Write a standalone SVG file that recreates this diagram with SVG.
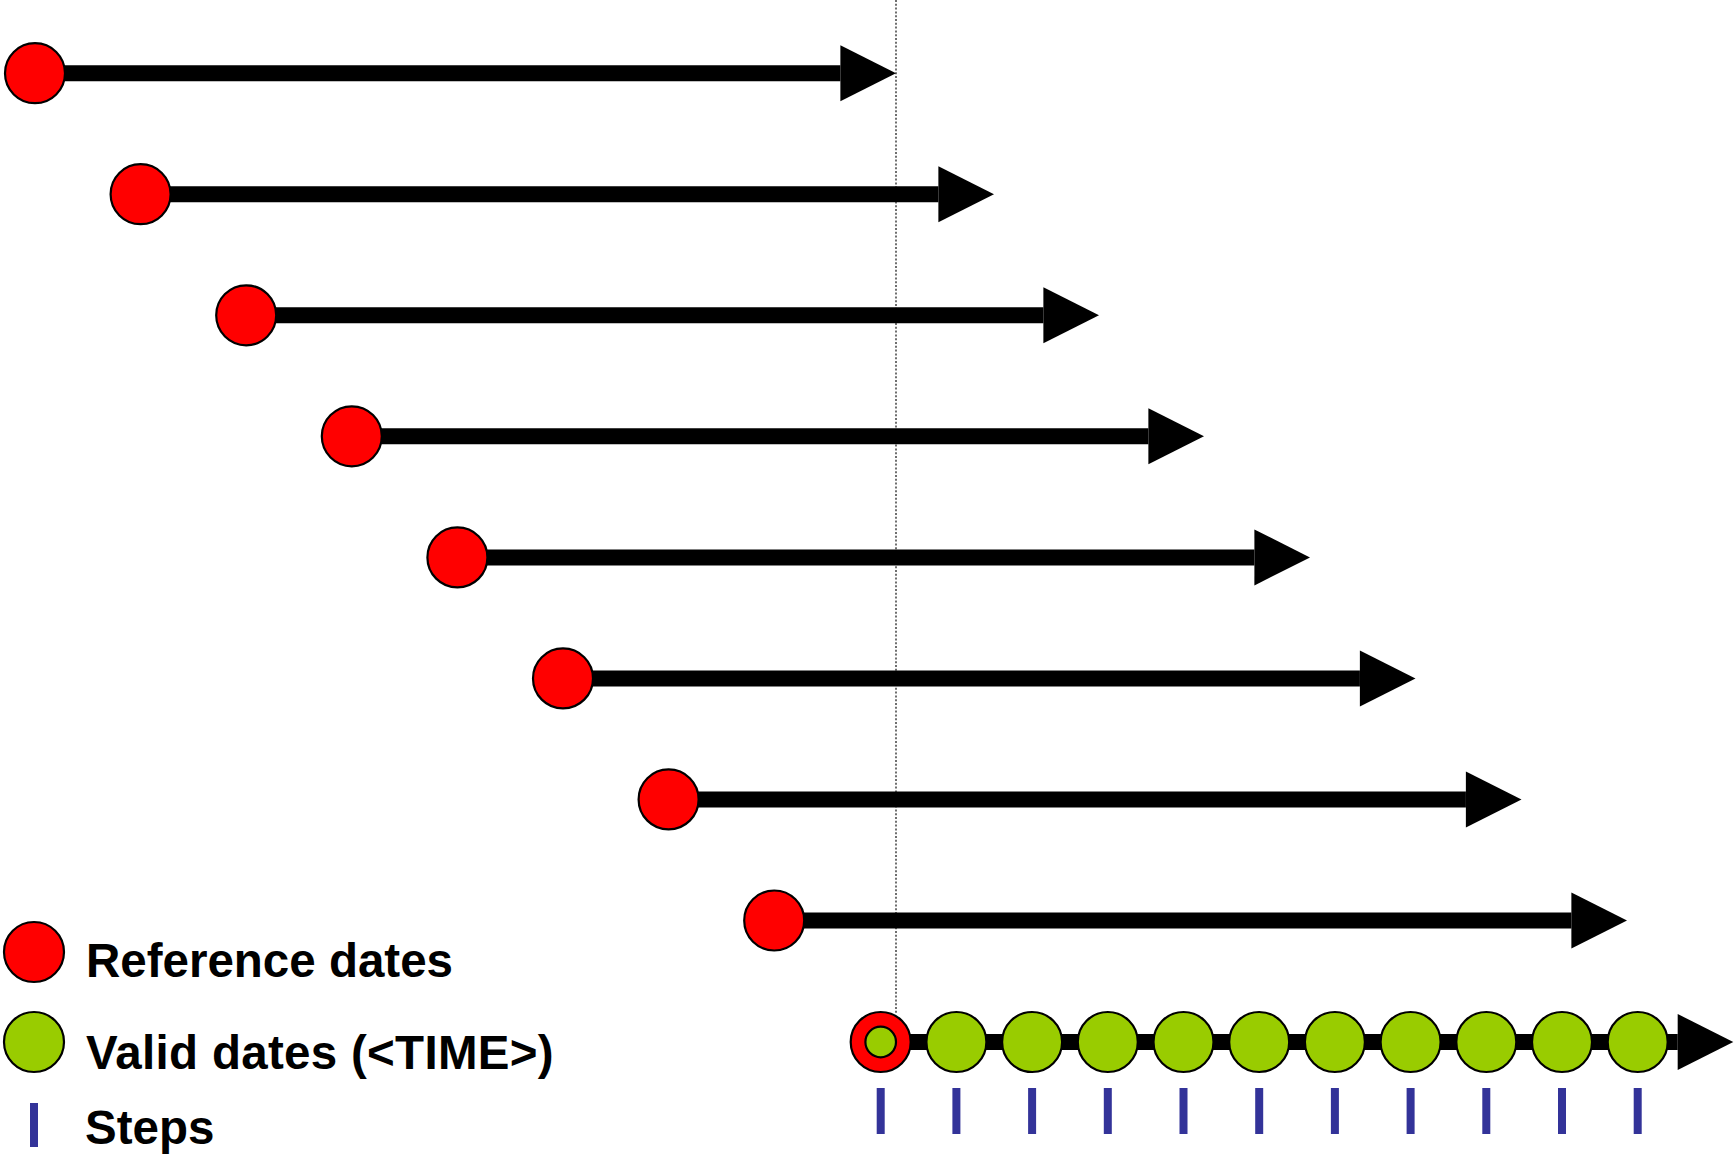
<svg xmlns="http://www.w3.org/2000/svg" width="1735" height="1159" viewBox="0 0 1735 1159">
  <defs>
    <marker id="head" markerUnits="userSpaceOnUse" markerWidth="56" markerHeight="58" viewBox="0 -29 56 58" refX="0" refY="0" orient="auto" overflow="visible">
      <path d="M0,-28 L55.6,0 L0,28 Z" fill="#000"/>
    </marker>
  </defs>
  <style>
    .shaft { stroke: #000; stroke-width: 16; fill: none; }
    .ref { fill: #FF0000; stroke: #000; stroke-width: 2.2; }
    .valid { fill: #99CC00; stroke: #000; stroke-width: 2.2; }
    .step { fill: #333399; }
    .guide { stroke: #333; stroke-width: 1.4; stroke-dasharray: 2 1.8; fill: none; }
    .label { font-family: "Liberation Sans", Arial, sans-serif; font-weight: bold; font-size: 47.5px; fill: #000; }
  </style>
  <rect width="1735" height="1159" fill="#fff"/>

  <g id="connectors">
    <!-- common valid time guide, drawn beneath the arrows -->
    <line class="guide" x1="896" y1="0" x2="896" y2="1013"/>
    <!-- forecast runs: one arrow per reference date -->
    <line class="shaft" x1="35" y1="73.2" x2="840.4" y2="73.2" marker-end="url(#head)"/>
    <line class="shaft" x1="140.6" y1="194.2" x2="938.4" y2="194.2" marker-end="url(#head)"/>
    <line class="shaft" x1="246.2" y1="315.3" x2="1043.4" y2="315.3" marker-end="url(#head)"/>
    <line class="shaft" x1="351.8" y1="436.3" x2="1148.4" y2="436.3" marker-end="url(#head)"/>
    <line class="shaft" x1="457.4" y1="557.4" x2="1254.4" y2="557.4" marker-end="url(#head)"/>
    <line class="shaft" x1="563" y1="678.4" x2="1359.9" y2="678.4" marker-end="url(#head)"/>
    <line class="shaft" x1="668.6" y1="799.4" x2="1465.9" y2="799.4" marker-end="url(#head)"/>
    <line class="shaft" x1="774.2" y1="920.5" x2="1571.4" y2="920.5" marker-end="url(#head)"/>
    <!-- valid-time axis -->
    <line class="shaft" x1="880.7" y1="1042" x2="1677.7" y2="1042" marker-end="url(#head)"/>
  </g>

  <g id="run-0"><circle class="ref" cx="35" cy="73.2" r="30"/></g>
  <g id="run-1"><circle class="ref" cx="140.6" cy="194.2" r="30"/></g>
  <g id="run-2"><circle class="ref" cx="246.2" cy="315.3" r="30"/></g>
  <g id="run-3"><circle class="ref" cx="351.8" cy="436.3" r="30"/></g>
  <g id="run-4"><circle class="ref" cx="457.4" cy="557.4" r="30"/></g>
  <g id="run-5"><circle class="ref" cx="563" cy="678.4" r="30"/></g>
  <g id="run-6"><circle class="ref" cx="668.6" cy="799.4" r="30"/></g>
  <g id="run-7"><circle class="ref" cx="774.2" cy="920.5" r="30"/></g>

  <!-- valid dates along the time axis -->
  <g id="valid-0"><circle class="ref" cx="880.7" cy="1042" r="30"/><circle class="valid" cx="880.7" cy="1042" r="15.3"/></g>
  <g id="valid-1"><circle class="valid" cx="956.4" cy="1042" r="30"/></g>
  <g id="valid-2"><circle class="valid" cx="1032.1" cy="1042" r="30"/></g>
  <g id="valid-3"><circle class="valid" cx="1107.8" cy="1042" r="30"/></g>
  <g id="valid-4"><circle class="valid" cx="1183.5" cy="1042" r="30"/></g>
  <g id="valid-5"><circle class="valid" cx="1259.2" cy="1042" r="30"/></g>
  <g id="valid-6"><circle class="valid" cx="1334.9" cy="1042" r="30"/></g>
  <g id="valid-7"><circle class="valid" cx="1410.6" cy="1042" r="30"/></g>
  <g id="valid-8"><circle class="valid" cx="1486.3" cy="1042" r="30"/></g>
  <g id="valid-9"><circle class="valid" cx="1562" cy="1042" r="30"/></g>
  <g id="valid-10"><circle class="valid" cx="1637.7" cy="1042" r="30"/></g>

  <!-- step marks -->
  <g id="steps">
    <rect class="step" x="876.7" y="1088" width="8" height="46"/>
    <rect class="step" x="952.4" y="1088" width="8" height="46"/>
    <rect class="step" x="1028.1" y="1088" width="8" height="46"/>
    <rect class="step" x="1103.8" y="1088" width="8" height="46"/>
    <rect class="step" x="1179.5" y="1088" width="8" height="46"/>
    <rect class="step" x="1255.2" y="1088" width="8" height="46"/>
    <rect class="step" x="1330.9" y="1088" width="8" height="46"/>
    <rect class="step" x="1406.6" y="1088" width="8" height="46"/>
    <rect class="step" x="1482.3" y="1088" width="8" height="46"/>
    <rect class="step" x="1558" y="1088" width="8" height="46"/>
    <rect class="step" x="1633.7" y="1088" width="8" height="46"/>
  </g>

  <!-- legend -->
  <g id="legend-reference">
    <circle class="ref" cx="34" cy="952" r="30"/>
    <text class="label" x="86" y="977.3">Reference dates</text>
  </g>
  <g id="legend-valid">
    <circle class="valid" cx="34" cy="1042" r="30"/>
    <text class="label" x="86" y="1069" letter-spacing="0.3">Valid dates (&lt;TIME&gt;)</text>
  </g>
  <g id="legend-steps">
    <rect class="step" x="30" y="1103" width="8" height="44"/>
    <text class="label" x="85" y="1143.5">Steps</text>
  </g>
</svg>
